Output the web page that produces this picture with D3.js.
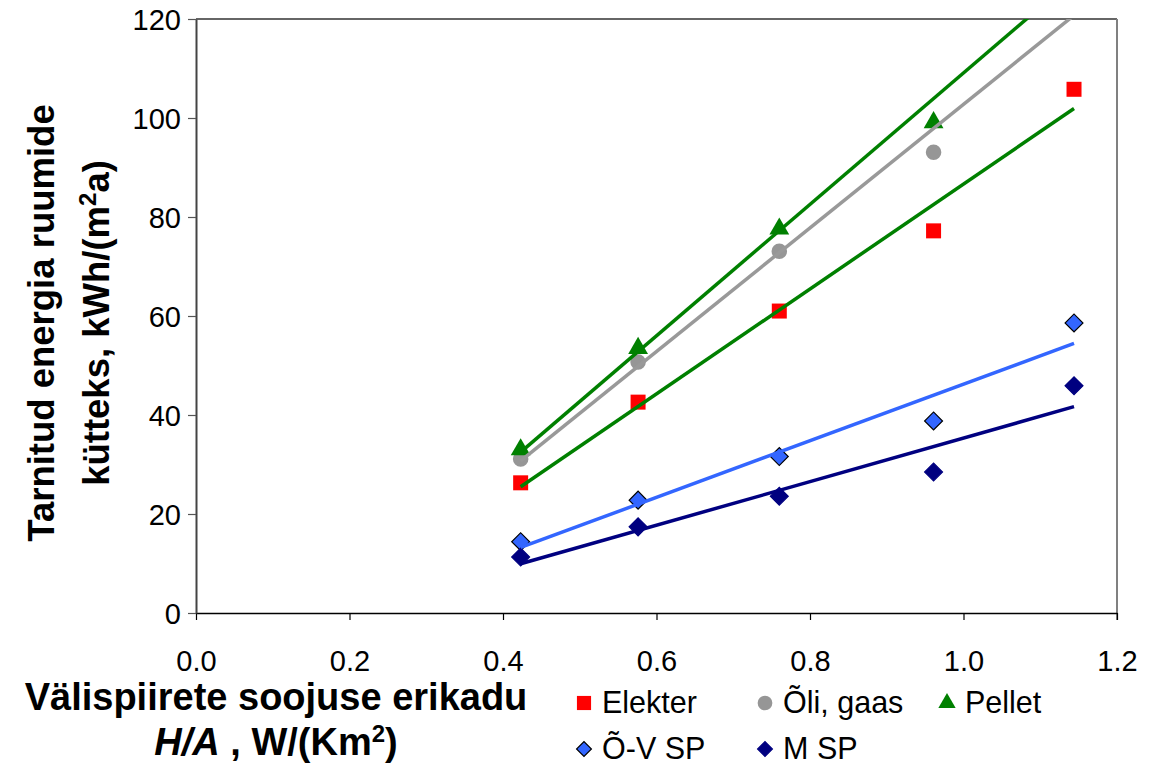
<!DOCTYPE html>
<html>
<head>
<meta charset="utf-8">
<script src="https://cdn.jsdelivr.net/npm/d3@7"></script>
<style>
  html, body { margin: 0; padding: 0; background: #fff; }
  svg { display: block; font-family: "Liberation Sans", Arial, sans-serif; }
</style>
</head>
<body>
<svg id="chart" width="1158" height="765"></svg>
<script>
// Specific heat loss of the envelope, W/(K m2)
const heatLoss = [0.423, 0.576, 0.760, 0.961, 1.144];

// Delivered heating energy, kWh/(m2 a), per heat source
const elekter  = [26.3, 42.6, 61.0, 77.2, 105.8];
const oliGaas  = [31.1, 50.7, 73.1, 93.1, 124.0];
const pellet   = [33.0, 53.5, 77.6, 99.1, 131.5];
const ovSP     = [14.4, 22.8, 31.6, 38.8, 58.6];
const mSP      = [11.3, 17.4, 23.6, 28.5, 45.9];

const xTicks = [0.0, 0.2, 0.4, 0.6, 0.8, 1.0, 1.2];
const yTicks = [0, 20, 40, 60, 80, 100, 120];

const seriesNames = ["Elekter", "Õli, gaas", "Pellet", "Õ-V SP", "M SP"];

const series = [
  { name: seriesNames[0], values: elekter, shape: "square",   fill: "#FF0000", stroke: "none",   line: "#008000" },
  { name: seriesNames[1], values: oliGaas, shape: "circle",   fill: "#969696", stroke: "none",   line: "#999999" },
  { name: seriesNames[2], values: pellet,  shape: "triangle", fill: "#008000", stroke: "none",   line: "#008000" },
  { name: seriesNames[3], values: ovSP,    shape: "diamond",  fill: "#3366FF", stroke: "#000",   line: "#3366FF" },
  { name: seriesNames[4], values: mSP,     shape: "diamond",  fill: "#000080", stroke: "#000080", line: "#000080" }
];

const plot = { left: 196, right: 1117, top: 19, bottom: 613 };

const x = d3.scaleLinear().domain([0, 1.2]).range([plot.left, plot.right]);
const y = d3.scaleLinear().domain([0, 120]).range([plot.bottom, plot.top]);

const svg = d3.select("#chart");

svg.append("defs").append("clipPath").attr("id", "plotClip")
  .append("rect")
  .attr("x", plot.left).attr("y", plot.top)
  .attr("width", plot.right - plot.left).attr("height", plot.bottom - plot.top);

// Plot area frame (top and right)
svg.append("line")
  .attr("x1", plot.left).attr("x2", plot.right)
  .attr("y1", plot.top).attr("y2", plot.top)
  .attr("stroke", "#333").attr("stroke-width", 1.5);
svg.append("line")
  .attr("x1", plot.right).attr("x2", plot.right)
  .attr("y1", plot.top).attr("y2", plot.bottom + 7)
  .attr("stroke", "#808080").attr("stroke-width", 2);

// Axes
const xAxis = d3.axisBottom(x).tickValues(xTicks).tickFormat(d3.format(".1f"))
  .tickSizeInner(7).tickSizeOuter(0);
const yAxis = d3.axisLeft(y).tickValues(yTicks).tickFormat(d3.format("d"))
  .tickSizeInner(8).tickSizeOuter(0);

const gx = svg.append("g").attr("transform", `translate(0,${plot.bottom})`).call(xAxis);
gx.select(".domain").attr("stroke", "#000").attr("stroke-width", 1.5);
gx.selectAll(".tick line").attr("stroke", "#000").attr("stroke-width", 1.2);
gx.selectAll(".tick text")
  .attr("font-size", 29).attr("fill", "#000")
  .attr("font-family", "Liberation Sans, Arial, sans-serif")
  .attr("y", 0).attr("dy", null)
  .attr("transform", "translate(0,58)");

const gy = svg.append("g").attr("transform", `translate(${plot.left},0)`).call(yAxis);
gy.select(".domain").attr("stroke", "#444").attr("stroke-width", 2);
gy.selectAll(".tick line").attr("stroke", "#555").attr("stroke-width", 1.2);
gy.selectAll(".tick text")
  .attr("font-size", 29).attr("fill", "#000")
  .attr("font-family", "Liberation Sans, Arial, sans-serif")
  .attr("x", -15).attr("dy", "0.36em");

// Marker shapes
const symbolFor = {
  square:   d3.symbol().type(d3.symbolSquare).size(225),
  circle:   d3.symbol().type(d3.symbolCircle).size(190),
  triangle: d3.symbol().type(d3.symbolTriangle).size(170),
  diamond:  d3.symbol().type(d3.symbolSquare).size(160)
};
function shapeTransform(shape, cx, cy) {
  return shape === "diamond" ? `translate(${cx},${cy}) rotate(45)` : `translate(${cx},${cy})`;
}

const markers = svg.append("g").attr("clip-path", "url(#plotClip)");
series.forEach(s => {
  markers.selectAll(null)
    .data(heatLoss.map((hx, i) => ({ hx, v: s.values[i] })).filter(d => d.v <= 120))
    .enter().append("path")
    .attr("d", symbolFor[s.shape]())
    .attr("transform", d => shapeTransform(s.shape, x(d.hx), y(d.v)))
    .attr("fill", s.fill)
    .attr("stroke", s.stroke)
    .attr("stroke-width", s.stroke === "none" ? 0 : 1.2);
});

// Linear least-squares trendlines
function linearFit(xs, ys) {
  const n = xs.length;
  const mx = d3.mean(xs), my = d3.mean(ys);
  let sxy = 0, sxx = 0;
  for (let i = 0; i < n; i++) {
    sxy += (xs[i] - mx) * (ys[i] - my);
    sxx += (xs[i] - mx) * (xs[i] - mx);
  }
  const b = sxy / sxx;
  return { a: my - b * mx, b };
}

const trends = svg.append("g").attr("clip-path", "url(#plotClip)");
const x0 = d3.min(heatLoss), x1 = d3.max(heatLoss);
series.forEach(s => {
  const f = linearFit(heatLoss, s.values);
  trends.append("line")
    .attr("x1", x(x0)).attr("y1", y(f.a + f.b * x0))
    .attr("x2", x(x1)).attr("y2", y(f.a + f.b * x1))
    .attr("stroke", s.line).attr("stroke-width", 3.5);
});

// Y axis title
const yTitle = svg.append("g")
  .attr("font-weight", "bold").attr("font-size", 36.5).attr("fill", "#000")
  .attr("text-anchor", "middle");
yTitle.append("text")
  .attr("transform", "translate(41,323) rotate(-90)")
  .attr("dy", "0.36em")
  .text("Tarnitud energia ruumide");
const yt2 = yTitle.append("text")
  .attr("transform", "translate(96,323) rotate(-90)")
  .attr("dy", "0.36em");
yt2.append("tspan").text("kütteks, kWh/(m");
yt2.append("tspan").attr("font-size", 24).attr("baseline-shift", "super").text("2");
yt2.append("tspan").text("a)");

// X axis title
const xTitle = svg.append("g")
  .attr("font-weight", "bold").attr("font-size", 38).attr("fill", "#000")
  .attr("text-anchor", "middle");
xTitle.append("text").attr("x", 276).attr("y", 710).text("Välispiirete soojuse erikadu");
const xt2 = xTitle.append("text").attr("x", 276).attr("y", 755);
xt2.append("tspan").attr("font-style", "italic").text("H/A");
xt2.append("tspan").text(" , W/(Km");
xt2.append("tspan").attr("font-size", 24).attr("baseline-shift", "super").text("2");
xt2.append("tspan").text(")");

// Legend
const legendPos = [
  { cx: 584, cy: 703 },
  { cx: 765, cy: 703 },
  { cx: 947, cy: 703 },
  { cx: 584, cy: 749 },
  { cx: 765, cy: 749 }
];
const legendSize = { square: 200, circle: 170, triangle: 130, diamond: 110 };
const legend = svg.append("g");
series.forEach((s, i) => {
  const p = legendPos[i];
  legend.append("path")
    .attr("d", d3.symbol().type(
      s.shape === "circle" ? d3.symbolCircle :
      s.shape === "triangle" ? d3.symbolTriangle : d3.symbolSquare
    ).size(legendSize[s.shape])())
    .attr("transform", shapeTransform(s.shape, p.cx, p.cy))
    .attr("fill", s.fill)
    .attr("stroke", s.stroke)
    .attr("stroke-width", s.stroke === "none" ? 0 : 1.2);
  legend.append("text")
    .attr("x", p.cx + 18).attr("y", p.cy + 10)
    .attr("font-size", 30.5).attr("fill", "#000")
    .text(s.name);
});
</script>
</body>
</html>
